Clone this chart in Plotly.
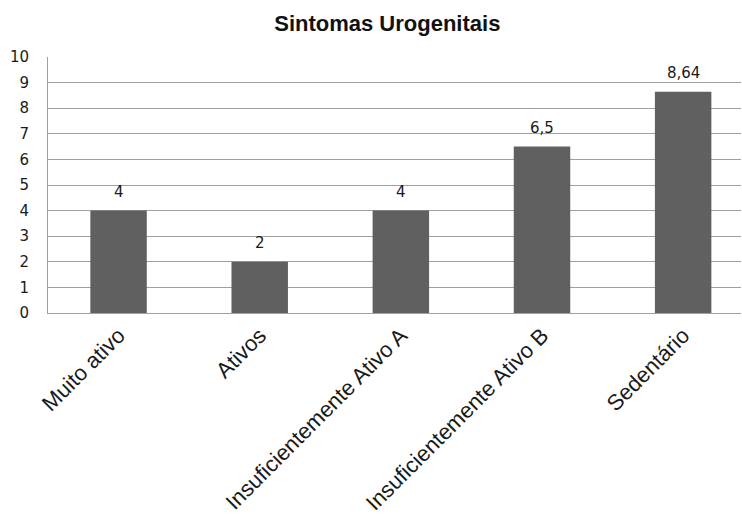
import plotly.graph_objects as go

categorias = ["Muito ativo", "Ativos", "Insuficientemente Ativo A",
              "Insuficientemente Ativo B", "Sedentário"]
valores = [4, 2, 4, 6.5, 8.64]
rotulos = ["4", "2", "4", "6,5", "8,64"]
y_ticks = list(range(0, 11))

fig = go.Figure()
fig.add_trace(go.Bar(
    x=categorias,
    y=valores,
    width=0.4,
    marker=dict(color="#606060", line=dict(width=0)),
    hoverinfo="x+y",
))

for c, v, r in zip(categorias, valores, rotulos):
    fig.add_annotation(
        x=c, y=v, text=r, showarrow=False, yshift=19,
        font=dict(family="DejaVu Sans", size=15, color="#1a1a1a"),
    )

fig.update_layout(
    width=742, height=519,
    margin=dict(l=48, r=1, t=57, b=206),
    paper_bgcolor="white",
    plot_bgcolor="white",
    showlegend=False,
    separators=",.",
    title=dict(
        text="<b>Sintomas Urogenitais</b>",
        x=0.522, xanchor="center", y=0.955, yanchor="middle",
        font=dict(family="Liberation Sans, Arial", size=22, color="#111111"),
    ),
)

fig.update_xaxes(
    range=[-0.5, 4.41],
    tickangle=-45,
    tickfont=dict(family="Liberation Sans, Arial", size=22, color="#1a1a1a"),
    showline=True, linecolor="#a0a0a0", linewidth=1,
    showgrid=False, ticks="", mirror=False,
)
fig.update_yaxes(
    range=[0, 10],
    tickvals=y_ticks,
    tickfont=dict(family="DejaVu Sans", size=15, color="#1a1a1a"),
    showgrid=True, gridcolor="#a0a0a0", gridwidth=1,
    showline=True, linecolor="#a0a0a0", linewidth=1,
    zeroline=False, ticks="", ticklabelstandoff=15,
)

fig.write_html("out.html")
